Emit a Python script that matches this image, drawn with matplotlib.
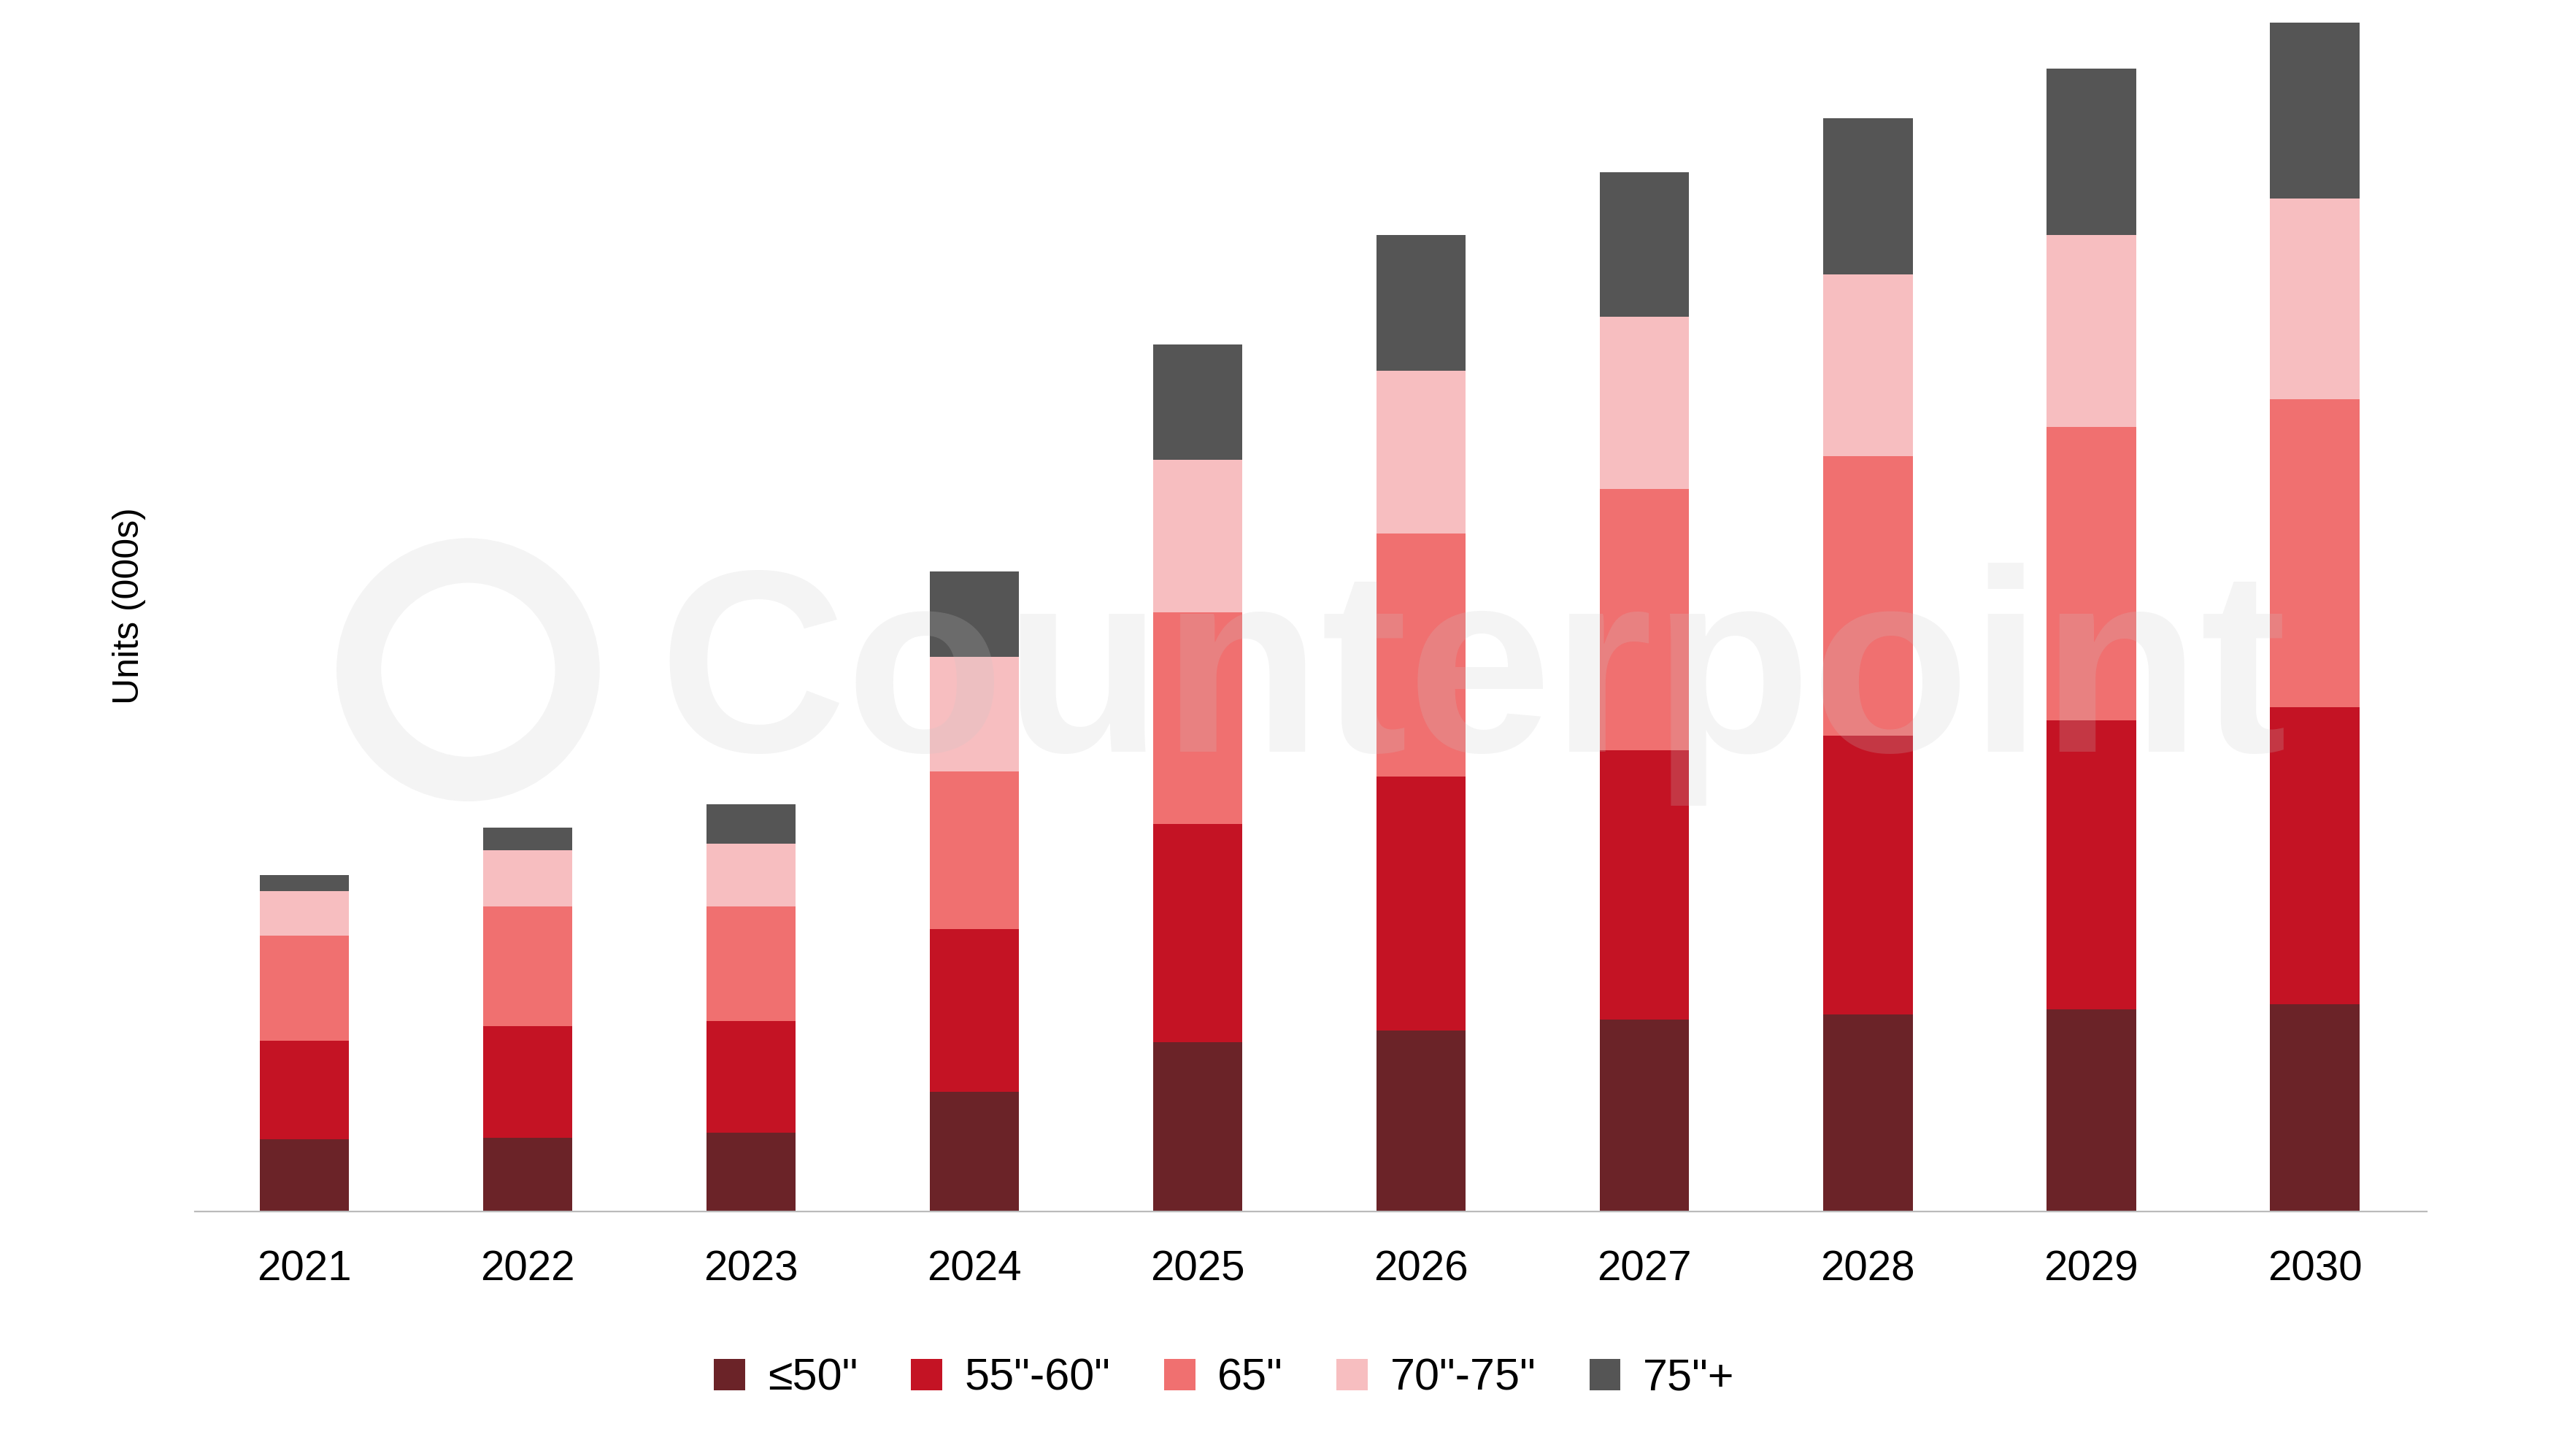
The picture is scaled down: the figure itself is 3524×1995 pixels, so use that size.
import matplotlib
matplotlib.use("Agg")
import matplotlib.pyplot as plt
from matplotlib.patches import Ellipse
import numpy as np

years = ["2021","2022","2023","2024","2025","2026","2027","2028","2029","2030"]
series = ['≤50"', '55"-60"', '65"', '70"-75"', '75"+']
le50 = [44, 45, 48, 73, 103, 110, 117, 120, 123, 126]
s55_60 = [60, 68, 68, 99, 133, 155, 164, 170, 176, 181]
s65 = [64, 73, 70, 96, 129, 148, 159, 170, 179, 188]
s70_75 = [27, 34, 38, 70, 93, 99, 105, 111, 117, 122]
s75p = [10, 14, 24, 52, 70, 83, 88, 95, 101, 107]
colors = ["#6B2328", "#C41324", "#F07070", "#F7BEC0", "#555555"]

plt.rcParams['font.family'] = ['Liberation Sans', 'DejaVu Sans']
fig = plt.figure(figsize=(17.62, 9.975), dpi=200)
ax = fig.add_axes([0.0757, 0.168, 0.8677, 0.832])
x = np.arange(len(years))
bottom = np.zeros(len(years))
for vals, c, name in zip([le50, s55_60, s65, s70_75, s75p], colors, series):
    ax.bar(x, vals, 0.4, bottom=bottom, color=c, label=name, zorder=2)
    bottom += np.array(vals)
ax.set_xlim(-0.49, 9.5)
ax.set_ylim(0, 738)
ax.set_xticks(x, years, fontsize=21)
ax.set_yticks([])
for s in ["top", "right", "left"]:
    ax.spines[s].set_visible(False)
ax.spines["bottom"].set_color("#BBBBBB")
ax.tick_params(axis="x", length=0, pad=19)
ax.set_ylabel("Units (000s)", fontsize=18, labelpad=24)
fig.text(0.5725, 0.53, "Counterpoint", fontsize=128, fontweight="bold", color="#C8C8C8",
         alpha=0.2, ha="center", va="center", zorder=10)
w = 0.085
circ = Ellipse((0.182, 0.54), w, w * 17.62 / 9.975, transform=fig.transFigure, fill=False,
               lw=22, color="#C8C8C8", alpha=0.2, zorder=10)
fig.add_artist(circ)
fig.legend(loc="center", bbox_to_anchor=(0.476, 0.053), ncol=5, frameon=False,
           fontsize=22, handlelength=0.7, handleheight=0.7, columnspacing=1.2, handletextpad=0.5)
fig.savefig("out.png", dpi=200)
